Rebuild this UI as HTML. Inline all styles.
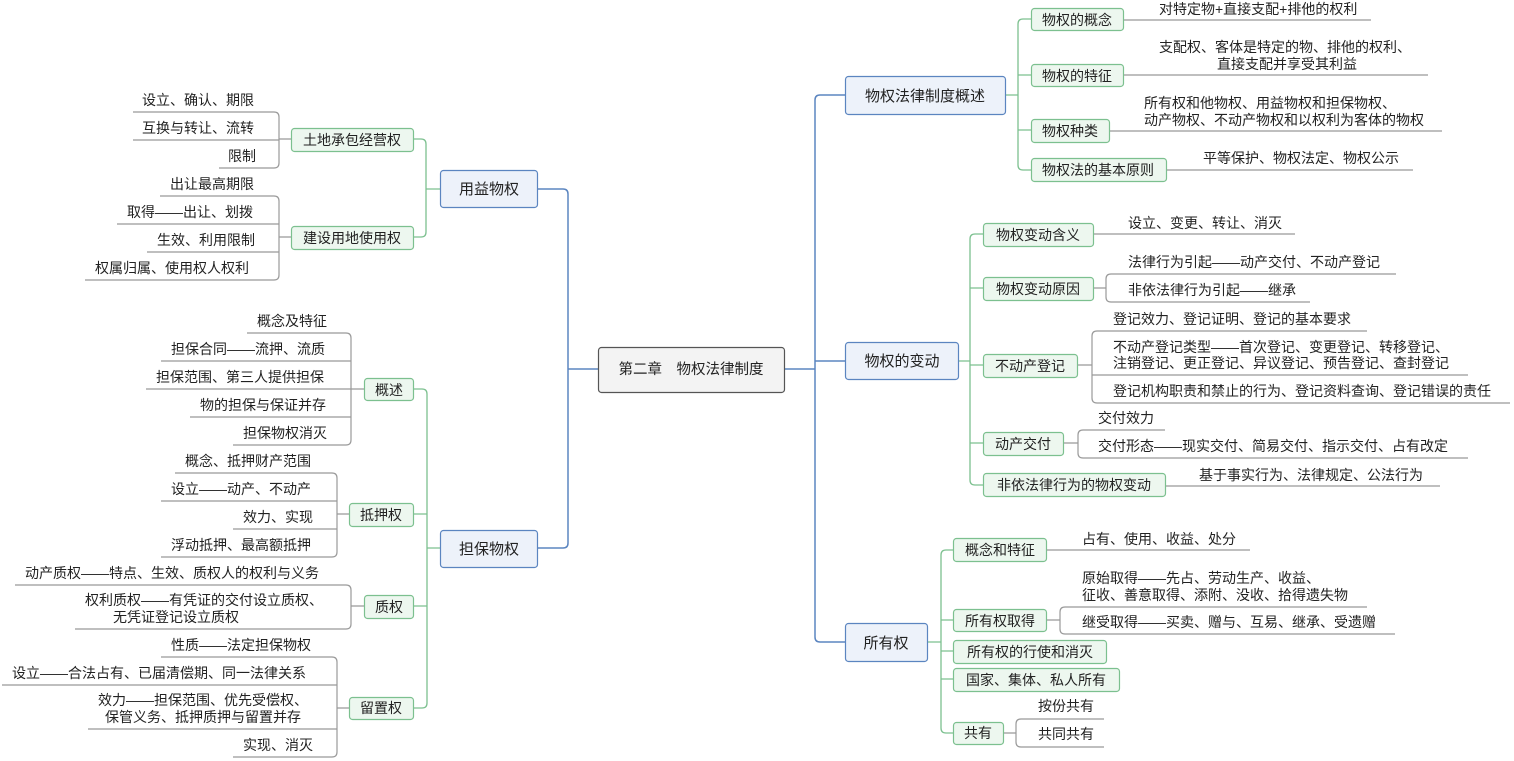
<!DOCTYPE html>
<html><head><meta charset="utf-8"><style>
html,body{margin:0;padding:0;background:#fff;}
svg{display:block;}
text{font-family:"Liberation Sans","Noto Sans CJK SC",sans-serif;fill:#222;}
.l{font-size:14px;}
.g{font-size:14px;text-anchor:middle;}
.b{font-size:15px;text-anchor:middle;}
</style></head><body>
<svg width="1514" height="761" viewBox="0 0 1514 761" xmlns="http://www.w3.org/2000/svg">
<g fill="none" stroke="#5b85c0" stroke-width="1.5">
<path d="M598 369H568 M537 189H563Q568 189 568 194V543Q568 548 563 548H537"/>
<path d="M784 369H815 M845 95H820Q815 95 815 100V637Q815 642 820 642H845 M815 361H845"/>
</g>
<g fill="none" stroke="#7cc08f" stroke-width="1.3">
<path d="M413 139H421Q426 139 426 144V232Q426 237 421 237H413 M426 189H440"/>
<path d="M413 389H422Q427 389 427 394V703Q427 708 422 708H413 M427 514H413 M427 606H413 M427 548H440"/>
<path d="M1005 95H1018 M1031 19H1023Q1018 19 1018 24V165Q1018 170 1023 170H1031 M1018 75H1031 M1018 130H1031"/>
<path d="M958 361H970 M983 234H975Q970 234 970 239V480Q970 485 975 485H983 M970 288H983 M970 365H983 M970 443H983"/>
<path d="M927 642H941 M953 550H946Q941 550 941 555V728Q941 733 946 733H953 M941 620H953 M941 651H953 M941 679H953"/>
</g>
<g fill="none" stroke="#999" stroke-width="1.2">
<path d="M291 139H279 M133 112H274Q279 112 279 117V163Q279 168 274 168H219 M133 140H279"/>
<path d="M291 237H279 M160 196H274Q279 196 279 201V275Q279 280 274 280H85 M117 224H279 M147 252H279"/>
<path d="M364 389H351 M247 333H346Q351 333 351 338V440Q351 445 346 445H233 M161 361H351 M146 389H351 M190 417H351"/>
<path d="M349 514H337 M175 473H332Q337 473 337 478V552Q337 557 332 557H161 M161 501H337 M233 529H337"/>
<path d="M364 606H351 M15 585H346Q351 585 351 590V624Q351 629 346 629H75"/>
<path d="M349 708H337 M161 657H332Q337 657 337 662V752Q337 757 332 757H233 M2 685H337 M88 729H337"/>
<path d="M1093 288H1106 M1396 274H1111Q1106 274 1106 279V297Q1106 302 1111 302H1310"/>
<path d="M1077 365H1092 M1367 331H1097Q1092 331 1092 336V398Q1092 403 1097 403H1510 M1092 375H1468"/>
<path d="M1063 443H1078 M1165 430H1083Q1078 430 1078 435V453Q1078 458 1083 458H1468"/>
<path d="M1046 620H1060 M1367 607H1065Q1060 607 1060 612V629Q1060 634 1065 634H1395"/>
<path d="M1003 733H1016 M1104 719H1021Q1016 719 1016 724V742Q1016 747 1021 747H1104"/>
<path d="M1123 20H1371 M1123 75H1428 M1109 131H1442 M1166 170H1413 M1093 234H1295 M1165 486H1440 M1046 550H1250"/>
</g>
<!-- root -->
<rect x="598.5" y="347.5" width="186" height="45" rx="3" fill="#f3f3f3" stroke="#555" stroke-width="1.2"/>
<text x="691" y="374" style="font-size:14.5px;text-anchor:middle">第二章　物权法律制度</text>
<!-- blue nodes -->
<g fill="#edf2fa" stroke="#5b85c0" stroke-width="1.2">
<rect x="440.5" y="170.5" width="97" height="37" rx="3"/>
<rect x="440.5" y="530.5" width="97" height="37" rx="3"/>
<rect x="845.5" y="76.5" width="160" height="38" rx="3"/>
<rect x="845.5" y="342.5" width="113" height="37" rx="3"/>
<rect x="845.5" y="623.5" width="82" height="38" rx="3"/>
</g>
<text class="b" x="489" y="194">用益物权</text>
<text class="b" x="489" y="554">担保物权</text>
<text class="b" x="925" y="101">物权法律制度概述</text>
<text class="b" x="902" y="366">物权的变动</text>
<text class="b" x="886" y="648">所有权</text>
<!-- green nodes -->
<g fill="#edf7ef" stroke="#7cc08f" stroke-width="1.2">
<rect x="291.5" y="128.5" width="122" height="23" rx="3"/>
<rect x="291.5" y="226.5" width="122" height="23" rx="3"/>
<rect x="364.5" y="378.5" width="49" height="22" rx="3"/>
<rect x="349.5" y="503.5" width="64" height="23" rx="3"/>
<rect x="364.5" y="595.5" width="49" height="23" rx="3"/>
<rect x="349.5" y="697.5" width="64" height="22" rx="3"/>
<rect x="1031.5" y="8.5" width="92" height="22" rx="3"/>
<rect x="1031.5" y="64.5" width="92" height="22" rx="3"/>
<rect x="1031.5" y="119.5" width="78" height="23" rx="3"/>
<rect x="1031.5" y="158.5" width="135" height="23" rx="3"/>
<rect x="983.5" y="223.5" width="110" height="23" rx="3"/>
<rect x="983.5" y="277.5" width="110" height="23" rx="3"/>
<rect x="983.5" y="354.5" width="94" height="23" rx="3"/>
<rect x="983.5" y="432.5" width="80" height="23" rx="3"/>
<rect x="983.5" y="473.5" width="182" height="23" rx="3"/>
<rect x="953.5" y="538.5" width="93" height="23" rx="3"/>
<rect x="953.5" y="609.5" width="93" height="22" rx="3"/>
<rect x="953.5" y="640.5" width="153" height="23" rx="3"/>
<rect x="953.5" y="668.5" width="166" height="23" rx="3"/>
<rect x="953.5" y="722.5" width="50" height="22" rx="3"/>
</g>
<text class="g" x="352" y="145">土地承包经营权</text>
<text class="g" x="352" y="243">建设用地使用权</text>
<text class="g" x="389" y="395">概述</text>
<text class="g" x="381" y="520">抵押权</text>
<text class="g" x="389" y="612">质权</text>
<text class="g" x="381" y="713">留置权</text>
<text class="g" x="1077" y="25">物权的概念</text>
<text class="g" x="1077" y="81">物权的特征</text>
<text class="g" x="1070" y="136">物权种类</text>
<text class="g" x="1098" y="175">物权法的基本原则</text>
<text class="g" x="1038" y="240">物权变动含义</text>
<text class="g" x="1038" y="294">物权变动原因</text>
<text class="g" x="1030" y="371">不动产登记</text>
<text class="g" x="1023" y="449">动产交付</text>
<text class="g" x="1074" y="490">非依法律行为的物权变动</text>
<text class="g" x="1000" y="555">概念和特征</text>
<text class="g" x="1000" y="626">所有权取得</text>
<text class="g" x="1030" y="657">所有权的行使和消灭</text>
<text class="g" x="1036" y="685">国家、集体、私人所有</text>
<text class="g" x="978" y="738">共有</text>
<!-- left leaves -->
<g class="l">
<text class="l" x="142" y="105">设立、确认、期限</text>
<text class="l" x="142" y="133">互换与转让、流转</text>
<text class="l" x="228" y="161">限制</text>
<text class="l" x="170" y="189">出让最高期限</text>
<text class="l" x="127" y="217">取得——出让、划拨</text>
<text class="l" x="157" y="245">生效、利用限制</text>
<text class="l" x="95" y="273">权属归属、使用权人权利</text>
<text class="l" x="257" y="326">概念及特征</text>
<text class="l" x="171" y="354">担保合同——流押、流质</text>
<text class="l" x="156" y="382">担保范围、第三人提供担保</text>
<text class="l" x="200" y="410">物的担保与保证并存</text>
<text class="l" x="243" y="438">担保物权消灭</text>
<text class="l" x="185" y="466">概念、抵押财产范围</text>
<text class="l" x="171" y="494">设立——动产、不动产</text>
<text class="l" x="243" y="522">效力、实现</text>
<text class="l" x="171" y="550">浮动抵押、最高额抵押</text>
<text class="l" x="25" y="578">动产质权——特点、生效、质权人的权利与义务</text>
<text class="l" x="85" y="605">权利质权——有凭证的交付设立质权、</text>
<text class="l" x="113" y="622">无凭证登记设立质权</text>
<text class="l" x="171" y="650">性质——法定担保物权</text>
<text class="l" x="12" y="678">设立——合法占有、已届清偿期、同一法律关系</text>
<text class="l" x="98" y="705">效力——担保范围、优先受偿权、</text>
<text class="l" x="105" y="722">保管义务、抵押质押与留置并存</text>
<text class="l" x="243" y="750">实现、消灭</text>
<!-- right leaves -->
<text class="l" x="1159" y="14">对特定物+直接支配+排他的权利</text>
<text class="l" x="1159" y="52">支配权、客体是特定的物、排他的权利、</text>
<text class="l" x="1217" y="69">直接支配并享受其利益</text>
<text class="l" x="1144" y="108">所有权和他物权、用益物权和担保物权、</text>
<text class="l" x="1144" y="125">动产物权、不动产物权和以权利为客体的物权</text>
<text class="l" x="1203" y="163">平等保护、物权法定、物权公示</text>
<text class="l" x="1128" y="228">设立、变更、转让、消灭</text>
<text class="l" x="1128" y="267">法律行为引起——动产交付、不动产登记</text>
<text class="l" x="1128" y="295">非依法律行为引起——继承</text>
<text class="l" x="1113" y="324">登记效力、登记证明、登记的基本要求</text>
<text class="l" x="1113" y="352">不动产登记类型——首次登记、变更登记、转移登记、</text>
<text class="l" x="1113" y="368">注销登记、更正登记、异议登记、预告登记、查封登记</text>
<text class="l" x="1113" y="396">登记机构职责和禁止的行为、登记资料查询、登记错误的责任</text>
<text class="l" x="1098" y="423">交付效力</text>
<text class="l" x="1098" y="451">交付形态——现实交付、简易交付、指示交付、占有改定</text>
<text class="l" x="1199" y="480">基于事实行为、法律规定、公法行为</text>
<text class="l" x="1082" y="544">占有、使用、收益、处分</text>
<text class="l" x="1082" y="583">原始取得——先占、劳动生产、收益、</text>
<text class="l" x="1082" y="600">征收、善意取得、添附、没收、拾得遗失物</text>
<text class="l" x="1082" y="627">继受取得——买卖、赠与、互易、继承、受遗赠</text>
<text class="l" x="1038" y="711">按份共有</text>
<text class="l" x="1038" y="739">共同共有</text>
</g>
</svg>
</body></html>
